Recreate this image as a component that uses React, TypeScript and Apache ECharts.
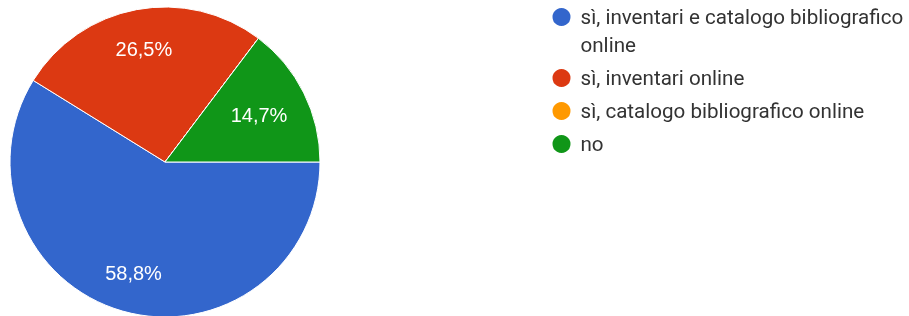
import React, { useEffect, useRef } from "react";
import * as echarts from "echarts";

const categories = [
  "sì, inventari e catalogo bibliografico online",
  "sì, inventari online",
  "sì, catalogo bibliografico online",
  "no",
];
const legendLabels = [
  "\nsì, inventari e catalogo bibliografico\nonline",
  "sì, inventari online",
  "sì, catalogo bibliografico online",
  "no",
];
const counts = [20, 9, 0, 5];
const colors = ["#3366cc", "#dc3912", "#ff9900", "#109618"];

const fmtPct = (p: any) => p.percent.toFixed(1).replace(".", ",") + "%";

export default function App() {
  const ref = useRef<HTMLDivElement>(null);
  useEffect(() => {
    if (!ref.current) return;
    const chart = echarts.init(ref.current, undefined, { renderer: "svg" });
    const LH = 28;
    const labelStyle = {
      color: "#ffffff",
      fontSize: 20,
      fontFamily: "'Liberation Sans', Arial, sans-serif",
      position: "inside",
      rotate: 0,
      formatter: fmtPct,
    };
    const overlay = (radius: number, showIdx: (i: number) => boolean) => ({
      type: "pie",
      silent: true,
      center: [165, 162],
      radius: [0, radius],
      startAngle: 0,
      clockwise: true,
      itemStyle: { color: "transparent", borderWidth: 0 },
      labelLine: { show: false },
      emphasis: { disabled: true },
      data: categories.map((name, i) => ({
        name,
        value: counts[i],
        label: { ...labelStyle, show: showIdx(i) && counts[i] > 0 },
      })),
    });
    chart.setOption({
      animation: false,
      color: colors,
      legend: {
        orient: "vertical",
        left: 550.5,
        top: -25,
        padding: 0,
        itemWidth: 20,
        itemHeight: 20,
        itemGap: 5,
        icon: "circle",
        selectedMode: false,
        formatter: (name: string) => legendLabels[categories.indexOf(name)],
        textStyle: {
          fontSize: 20.6,
          fontFamily: "Roboto, sans-serif",
          color: "#333333",
          lineHeight: LH,
          padding: [0, 0, 0, 4],
        },
        data: categories,
      },
      series: [
        {
          type: "pie",
          center: [165, 162],
          radius: [0, 155],
          startAngle: 0,
          clockwise: true,
          silent: true,
          itemStyle: { borderColor: "#ffffff", borderWidth: 1 },
          label: { show: false },
          labelLine: { show: false },
          emphasis: { disabled: true },
          data: categories.map((name, i) => ({ name, value: counts[i] })),
        },
        overlay(224, (i) => i !== 3),
        overlay(204, (i) => i === 3),
      ],
    });
    return () => chart.dispose();
  }, []);
  return (
    <div
      ref={ref}
      style={{ position: "fixed", left: 0, top: 0, width: 909, height: 316 }}
    />
  );
}
